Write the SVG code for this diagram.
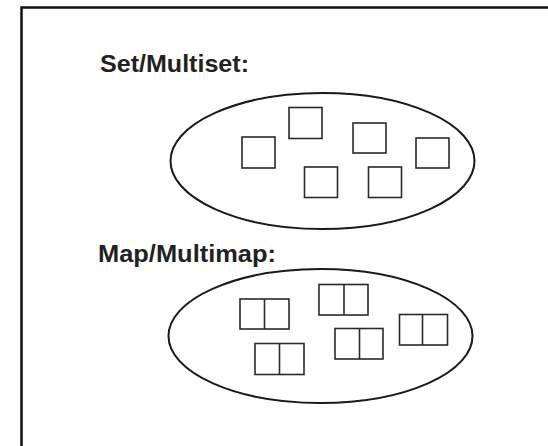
<svg xmlns="http://www.w3.org/2000/svg" width="548" height="446" viewBox="0 0 548 446">
  <style>
    .frame { stroke: #111; stroke-width: 2.5; fill: none; }
    .title { font-family: "Liberation Sans", Arial, sans-serif; font-size: 23.5px; font-weight: bold; fill: #222; }
    .bag { fill: none; stroke: #1a1a1a; stroke-width: 2; }
    .elem { fill: none; stroke: #2a2a2a; stroke-width: 1.6; }
  </style>
  <rect width="548" height="446" fill="#fff"/>
  <!-- frame: top and left rules only -->
  <path class="frame" d="M21.5 446 V7.5 H548"/>

  <g id="set">
    <text class="title" x="100" y="72" textLength="149" lengthAdjust="spacingAndGlyphs">Set/Multiset:</text>
    <ellipse class="bag" cx="322.5" cy="161" rx="152" ry="68"/>
    <g id="set-elements">
      <rect class="elem" x="242" y="137" width="33" height="31"/>
      <rect class="elem" x="289" y="107.5" width="33" height="31"/>
      <rect class="elem" x="353" y="123" width="33" height="30"/>
      <rect class="elem" x="416" y="138" width="33" height="30"/>
      <rect class="elem" x="304.5" y="167" width="33" height="30.5"/>
      <rect class="elem" x="368.5" y="167" width="33" height="30.5"/>
    </g>
  </g>

  <g id="map">
    <text class="title" x="98" y="262" textLength="178" lengthAdjust="spacingAndGlyphs">Map/Multimap:</text>
    <ellipse class="bag" cx="320.5" cy="336" rx="152" ry="67"/>
    <g id="map-elements">
      <g><rect class="elem" x="240" y="299" width="49" height="30"/><line class="elem" x1="264.5" y1="299" x2="264.5" y2="329"/></g>
      <g><rect class="elem" x="319" y="284.5" width="49" height="30.5"/><line class="elem" x1="344" y1="284.5" x2="344" y2="315"/></g>
      <g><rect class="elem" x="399.5" y="314.5" width="48" height="30.5"/><line class="elem" x1="422.5" y1="314.5" x2="422.5" y2="345"/></g>
      <g><rect class="elem" x="255" y="343.5" width="49" height="31"/><line class="elem" x1="279.5" y1="343.5" x2="279.5" y2="374.5"/></g>
      <g><rect class="elem" x="335" y="328.5" width="48" height="30.5"/><line class="elem" x1="359.5" y1="328.5" x2="359.5" y2="359"/></g>
    </g>
  </g>
</svg>
